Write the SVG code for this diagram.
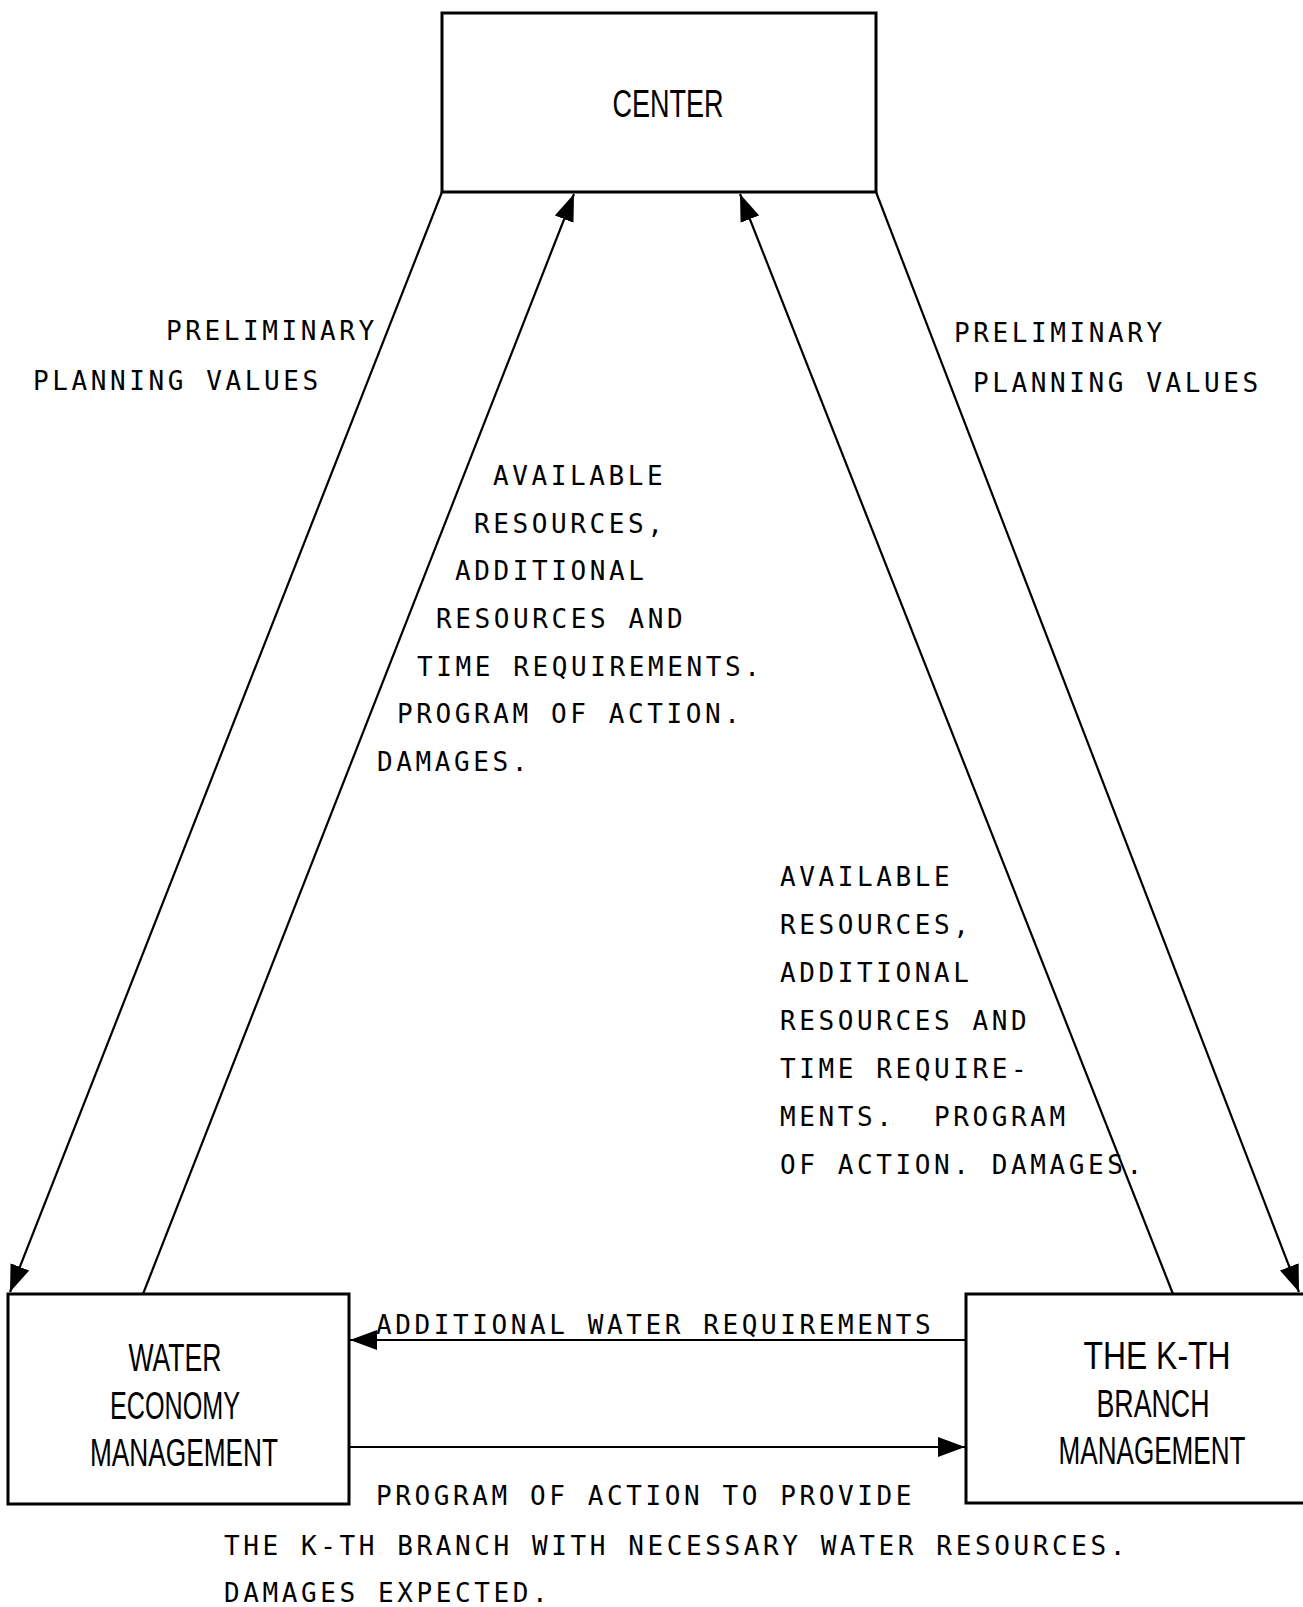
<svg xmlns="http://www.w3.org/2000/svg" width="1303" height="1607" viewBox="0 0 1303 1607">
<defs>
<style>
.box{fill:#fff;stroke:#000;stroke-width:3}
.con{fill:none;stroke:#000;stroke-width:2.2}
.bt{font-family:"Liberation Sans",Arial,sans-serif;font-size:38px;fill:#000;text-anchor:middle}
.lt{font-family:"DejaVu Sans Mono","Liberation Mono",monospace;font-size:26px;letter-spacing:3.6px;fill:#000}
</style>
<marker id="ah" markerUnits="userSpaceOnUse" markerWidth="28" markerHeight="20" refX="27" refY="10" orient="auto" viewBox="0 0 28 20">
<path d="M0,0 L27,10 L0,20 Z" fill="#000"/>
</marker>
</defs>
<rect width="1303" height="1607" fill="#fff"/>
<g id="connectors">
<line class="con" x1="442" y1="192" x2="10" y2="1292" marker-end="url(#ah)"/>
<line class="con" x1="143" y1="1294" x2="574" y2="194" marker-end="url(#ah)"/>
<line class="con" x1="1173" y1="1294" x2="740" y2="194" marker-end="url(#ah)"/>
<line class="con" x1="876" y1="192" x2="1299" y2="1292" marker-end="url(#ah)"/>
<line class="con" x1="966" y1="1340" x2="350" y2="1340" marker-end="url(#ah)"/>
<line class="con" x1="349" y1="1447" x2="965" y2="1447" marker-end="url(#ah)"/>
</g>
<g id="center">
<rect class="box" x="442" y="13" width="434" height="179"/>
<text class="bt" x="668" y="117" font-size="42" textLength="111" lengthAdjust="spacingAndGlyphs">CENTER</text>
</g>
<g id="water">
<rect class="box" x="8" y="1294" width="341" height="210"/>
<text class="bt" x="175" y="1371" textLength="93" lengthAdjust="spacingAndGlyphs">WATER</text>
<text class="bt" x="175" y="1419" textLength="130" lengthAdjust="spacingAndGlyphs">ECONOMY</text>
<text class="bt" x="184" y="1466" textLength="188" lengthAdjust="spacingAndGlyphs">MANAGEMENT</text>
</g>
<g id="branch">
<path class="box" d="M1310,1294 H966 V1503 H1310"/>
<text class="bt" x="1157" y="1369" textLength="147" lengthAdjust="spacingAndGlyphs">THE K-TH</text>
<text class="bt" x="1153" y="1417" textLength="113" lengthAdjust="spacingAndGlyphs">BRANCH</text>
<text class="bt" x="1152" y="1464" textLength="187" lengthAdjust="spacingAndGlyphs">MANAGEMENT</text>
</g>
<g id="labels">
<text class="lt" x="166" y="340">PRELIMINARY</text>
<text class="lt" x="33" y="390">PLANNING VALUES</text>
<text class="lt" x="954" y="342">PRELIMINARY</text>
<text class="lt" x="973" y="392">PLANNING VALUES</text>
<text class="lt" x="493" y="485">AVAILABLE</text>
<text class="lt" x="474" y="533">RESOURCES,</text>
<text class="lt" x="455" y="580">ADDITIONAL</text>
<text class="lt" x="436" y="628">RESOURCES AND</text>
<text class="lt" x="417" y="676">TIME REQUIREMENTS.</text>
<text class="lt" x="397" y="723">PROGRAM OF ACTION.</text>
<text class="lt" x="377" y="771">DAMAGES.</text>
<text class="lt" x="780" y="886">AVAILABLE</text>
<text class="lt" x="780" y="934">RESOURCES,</text>
<text class="lt" x="780" y="982">ADDITIONAL</text>
<text class="lt" x="780" y="1030">RESOURCES AND</text>
<text class="lt" x="780" y="1078">TIME REQUIRE-</text>
<text class="lt" x="780" y="1126" xml:space="preserve">MENTS.  PROGRAM</text>
<text class="lt" x="780" y="1174">OF ACTION. DAMAGES.</text>
<text class="lt" x="376" y="1334">ADDITIONAL WATER REQUIREMENTS</text>
<text class="lt" x="376" y="1505">PROGRAM OF ACTION TO PROVIDE</text>
<text class="lt" x="224" y="1555">THE K-TH BRANCH WITH NECESSARY WATER RESOURCES.</text>
<text class="lt" x="224" y="1602">DAMAGES EXPECTED.</text>
</g>
</svg>
